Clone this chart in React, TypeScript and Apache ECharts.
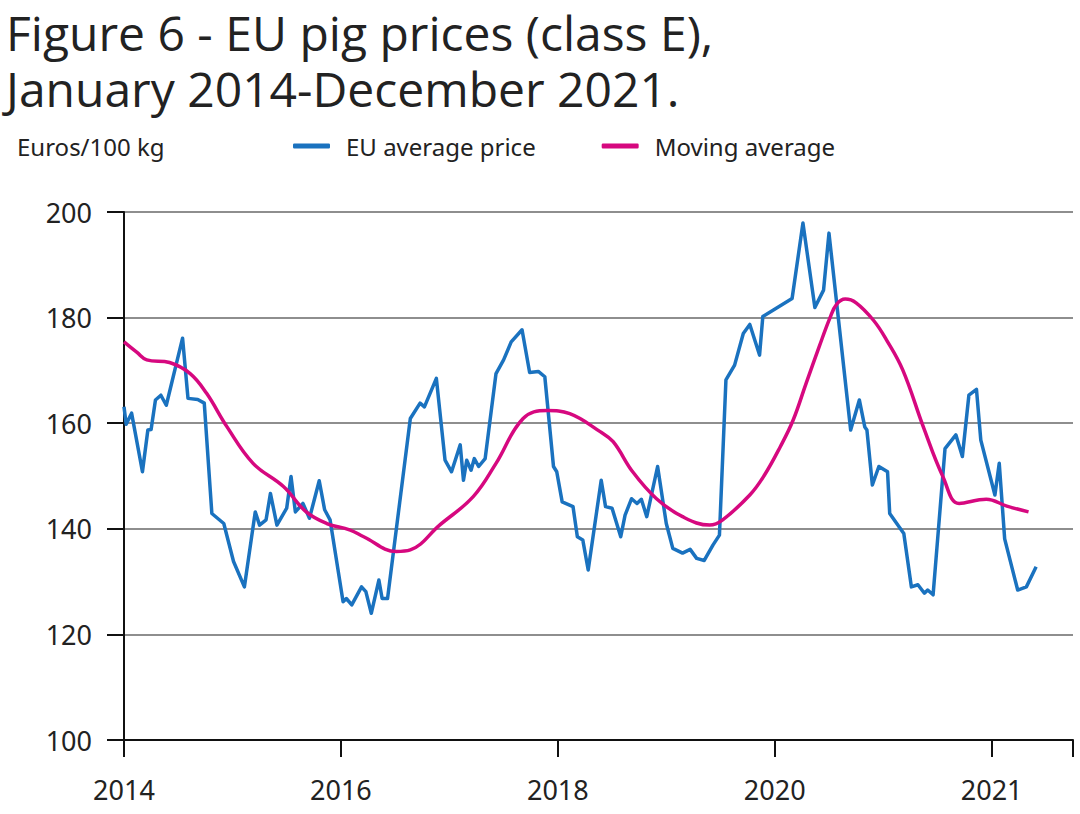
import React, { useEffect, useRef } from "react";
import * as echarts from "echarts";

const titleText = "Figure 6 - EU pig prices (class E),\nJanuary 2014-December 2021.";
const unitLabel = "Euros/100 kg";
const seriesNames = ["EU average price", "Moving average"];

const xTickValues = [2014, 2016, 2018, 2020, 2022];
const xTickLabels = ["2014", "2016", "2018", "2020", "2021"];

const priceDates = [
  2014.0, 2014.02, 2014.07, 2014.17, 2014.22, 2014.25, 2014.29, 2014.34, 2014.39, 2014.54,
  2014.59, 2014.68, 2014.74, 2014.81, 2014.92, 2015.01, 2015.11, 2015.21, 2015.25, 2015.31,
  2015.35, 2015.41, 2015.5, 2015.54, 2015.58, 2015.65, 2015.71, 2015.8, 2015.85, 2015.9,
  2016.02, 2016.05, 2016.1, 2016.19, 2016.23, 2016.28, 2016.35, 2016.38, 2016.43, 2016.64,
  2016.73, 2016.77, 2016.88, 2016.96, 2017.02, 2017.1, 2017.13, 2017.16, 2017.2, 2017.23,
  2017.27, 2017.33, 2017.43, 2017.5, 2017.57, 2017.67, 2017.74, 2017.82, 2017.88, 2017.96,
  2017.99, 2018.04, 2018.14, 2018.18, 2018.23, 2018.28, 2018.4, 2018.44, 2018.5, 2018.58,
  2018.62, 2018.68, 2018.73, 2018.77, 2018.82, 2018.92, 2019.0, 2019.06, 2019.15, 2019.22,
  2019.28, 2019.35, 2019.43, 2019.49, 2019.55, 2019.63, 2019.71, 2019.77, 2019.86, 2019.89,
  2020.16, 2020.26, 2020.37, 2020.45, 2020.5, 2020.7, 2020.78, 2020.83, 2020.85, 2020.9,
  2020.96, 2021.04, 2021.06, 2021.19, 2021.26, 2021.32, 2021.38, 2021.41, 2021.46, 2021.57,
  2021.67, 2021.73, 2021.79, 2021.86, 2021.9, 2022.03, 2022.07, 2022.12, 2022.24, 2022.32,
  2022.41,
];
const priceValues = [
  163.1, 159.8, 161.9, 150.8, 158.7, 158.8, 164.4, 165.3, 163.4, 176.1,
  164.7, 164.5, 163.8, 142.9, 141.0, 133.8, 129.0, 143.2, 140.7, 141.7,
  146.7, 140.7, 143.9, 149.9, 143.2, 144.8, 142.0, 149.1, 143.6, 141.7,
  126.2, 126.8, 125.6, 129.0, 128.1, 124.0, 130.3, 126.8, 126.8, 160.9,
  163.8, 163.1, 168.5, 153.0, 150.8, 155.9, 149.2, 153.0, 151.1, 153.3,
  151.8, 153.3, 169.4, 172.0, 175.4, 177.7, 169.6, 169.8, 168.8, 151.8,
  150.8, 145.1, 144.2, 138.5, 137.9, 132.2, 149.2, 144.2, 143.9, 138.5,
  142.6, 145.7, 144.8, 145.6, 142.3, 151.8, 141.0, 136.3, 135.4, 136.1,
  134.4, 134.0, 136.9, 138.8, 168.2, 171.0, 177.0, 178.7, 172.9, 180.2,
  183.6, 197.9, 181.9, 185.2, 196.0, 158.7, 164.4, 159.3, 158.7, 148.3,
  151.8, 150.8, 142.9, 139.1, 129.0, 129.4, 127.8, 128.4, 127.5, 155.2,
  157.8, 153.7, 165.3, 166.4, 156.8, 146.4, 152.4, 138.1, 128.4, 129.0,
  132.8,
];

const maDates = [
  2014.0, 2014.12, 2014.21, 2014.42, 2014.61, 2014.76, 2014.95, 2015.19, 2015.47, 2015.68,
  2015.87, 2016.08, 2016.21, 2016.51, 2016.64, 2016.91, 2017.22, 2017.43, 2017.68, 2017.9,
  2018.11, 2018.39, 2018.51, 2018.69, 2018.91, 2019.15, 2019.4, 2019.52, 2019.77, 2019.9,
  2020.05, 2020.17, 2020.29, 2020.41, 2020.51, 2020.57, 2020.65, 2020.75, 2020.91, 2021.03,
  2021.18, 2021.37, 2021.55, 2021.7, 2021.95, 2022.14, 2022.34,
];
const maValues = [
  175.4, 173.4, 172.0, 171.5, 169.4, 165.7, 159.3, 152.4, 148.0, 143.2,
  141.0, 139.8, 138.5, 135.7, 136.0, 140.7, 146.1, 152.4, 160.9, 162.4,
  161.8, 158.4, 156.5, 150.8, 145.7, 142.3, 140.7, 141.7, 146.4, 150.0,
  155.5, 160.6, 167.6, 174.5, 180.0, 182.5, 183.5, 182.8, 179.5, 175.8,
  170.1, 159.3, 149.9, 144.8, 145.6, 144.3, 143.2,
];

const BLUE = "#1a72bf";
const MAGENTA = "#d6087f";
const TEXT = "#222222";

export default function App() {
  const ref = useRef<HTMLDivElement>(null);
  useEffect(() => {
    if (!ref.current) return;
    const chart = echarts.init(ref.current, undefined, { renderer: "svg" });
    const priceData = priceDates.map((d, i) => [d, priceValues[i]]);
    const maData = maDates.map((d, i) => [d, maValues[i]]);
    chart.setOption({
      animation: false,
      backgroundColor: "#ffffff",
      title: [
        {
          text: titleText,
          left: 6,
          top: 4,
          padding: 0,
          textStyle: {
            fontFamily: "Open Sans",
            fontWeight: "normal",
            fontSize: 48,
            lineHeight: 56,
            color: TEXT,
          },
        },
        {
          text: unitLabel,
          left: 17,
          top: 134,
          padding: 0,
          textStyle: {
            fontFamily: "Noto Sans",
            fontWeight: "normal",
            fontSize: 24,
            color: TEXT,
          },
        },
      ],
      legend: {
        left: 293,
        top: 134,
        padding: 0,
        itemWidth: 37,
        itemHeight: 5,
        itemGap: 66,
        icon: "roundRect",
        textStyle: { fontFamily: "Noto Sans", fontSize: 24, color: TEXT, padding: [0, 0, 0, 11] },
        data: seriesNames,
      },
      grid: { left: 124, right: 7, top: 212, bottom: 74, containLabel: false },
      xAxis: {
        type: "value",
        min: 2014,
        max: 2022.75,
        interval: 2,
        axisLine: { show: true, lineStyle: { color: "#111", width: 2 } },
        axisTick: {
          show: true,
          length: 17,
          lineStyle: { color: "#111", width: 2 },
          customValues: [...xTickValues, 2022.75],
        },
        axisLabel: {
          customValues: xTickValues,
          formatter: (v: number) => {
            const i = xTickValues.indexOf(Math.round(v));
            return i >= 0 ? xTickLabels[i] : "";
          },
          fontFamily: "Noto Sans",
          fontSize: 27,
          color: TEXT,
          margin: 36,
        },
        splitLine: { show: false },
      },
      yAxis: {
        type: "value",
        min: 100,
        max: 200,
        interval: 20,
        axisLine: { show: true, lineStyle: { color: "#111", width: 2 } },
        axisTick: { show: true, length: 17, lineStyle: { color: "#111", width: 2 } },
        axisLabel: {
          fontFamily: "Noto Sans",
          fontSize: 27,
          color: TEXT,
          margin: 32,
        },
        splitLine: { show: true, lineStyle: { color: "#8e8e8e", width: 2 } },
      },
      series: [
        {
          name: seriesNames[0],
          type: "line",
          data: priceData,
          showSymbol: false,
          symbol: "none",
          lineStyle: { color: BLUE, width: 3.5, join: "round" },
          itemStyle: { color: BLUE },
          z: 3,
        },
        {
          name: seriesNames[1],
          type: "line",
          data: maData,
          smooth: 0.4,
          showSymbol: false,
          symbol: "none",
          lineStyle: { color: MAGENTA, width: 3.5 },
          itemStyle: { color: MAGENTA },
          z: 4,
        },
      ],
    });
    return () => chart.dispose();
  }, []);
  return (
    <div
      ref={ref}
      style={{ position: "fixed", left: 0, top: 0, width: 1080, height: 814, background: "#fff" }}
    />
  );
}
